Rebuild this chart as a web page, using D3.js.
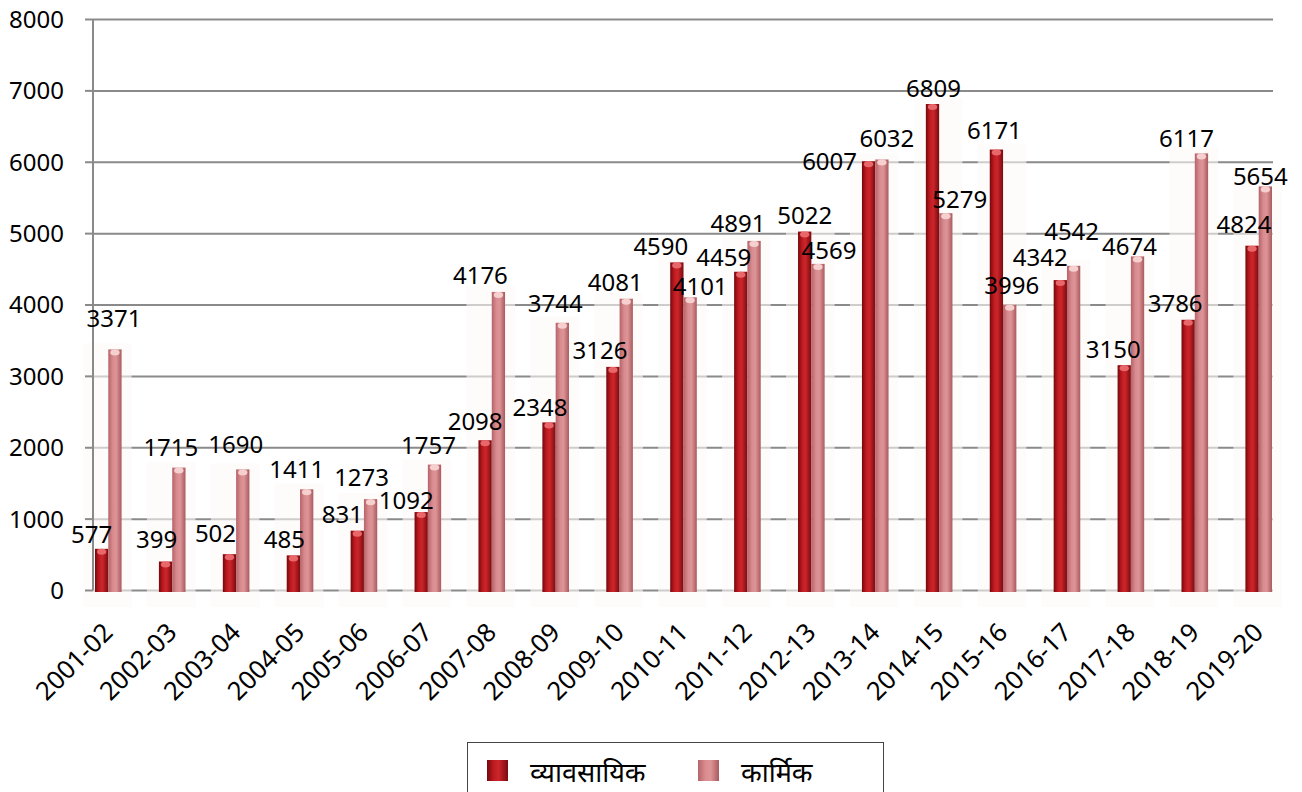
<!DOCTYPE html>
<html>
<head>
<meta charset="utf-8">
<script src="https://cdn.jsdelivr.net/npm/d3@7"></script>
<style>
	body { margin: 0; background: #fff; }
	text { font-family: "Noto Sans", "Open Sans", sans-serif; fill: #000; }
	.legend text { font-family: "Noto Sans Devanagari", "Lohit Devanagari", "Noto Sans", sans-serif; }
</style>
</head>
<body>
<div id="vis"></div>
<script>
// Year categories and the two series
var categories = ['2001-02', '2002-03', '2003-04', '2004-05', '2005-06', '2006-07', '2007-08',
	'2008-09', '2009-10', '2010-11', '2011-12', '2012-13', '2013-14', '2014-15', '2015-16',
	'2016-17', '2017-18', '2018-19', '2019-20'];
var vyavasayik = [577, 399, 502, 485, 831, 1092, 2098, 2348, 3126, 4590, 4459, 5022, 6007, 6809, 6171, 4342, 3150, 3786, 4824];
var karmik = [3371, 1715, 1690, 1411, 1273, 1757, 4176, 3744, 4081, 4101, 4891, 4569, 6032, 5279, 3996, 4542, 4674, 6117, 5654];
var seriesNames = ['व्यावसायिक', 'कार्मिक'];
var yTicks = [0, 1000, 2000, 3000, 4000, 5000, 6000, 7000, 8000];

// label shifts (px) from the top of each bar, the way the old chart placed them
var nudgeDark = [[-10, -14], [-9, -22], [-14, -21], [-9, -16], [-15, -16], [-15, -11], [-10, -19],
	[-9, -15], [-13, -16], [-16, -16], [-17, -14], [0, -16], [-39, 0], [1, -15], [-2, -19],
	[-20, -22], [-11, -16], [-13, -16], [-8, -21]];
var nudgePink = [[-1, -31], [-8, -20], [-7, -25], [-10, -20], [-9, -22], [-6, -19], [-18, -16],
	[-7, -19], [-11, -16], [10, -11], [-16, -17], [11, -13], [5, -21], [14, -14], [2, -19],
	[-2, -34], [-8, -10], [-15, -15], [-5, -10]];

buildChart();

function buildChart() {
	var W = 1302, H = 792;
	var left = 93, right = 1273, top = 19, bottom = 590;

	var svg = d3.select('#vis').append('svg')
		.attr('width', W)
		.attr('height', H);

	addGradients(svg.append('defs'));

	var y = d3.scaleLinear().domain([0, 8000]).range([bottom, top]);
	var x = d3.scaleBand().domain(categories).range([95, 1272])
		.paddingInner(0.584).paddingOuter(0).align(0);
	var xs = d3.scaleBand().domain([0, 1]).range([0, x.bandwidth()]);

	var rows = categories.map(function(c, i) {
		return {cat: c, i: i, vals: [vyavasayik[i], karmik[i]]};
	});

	// gridlines
	var grid = svg.append('g')
		.attr('transform', 'translate(' + left + ',0)')
		.call(d3.axisLeft(y).tickValues(yTicks).tickSize(-(right - left)).tickFormat(''));
	grid.select('.domain').remove();
	grid.selectAll('line').attr('stroke', '#8a8a8a').attr('stroke-width', 2);

	// faint backdrop behind each pair, like the 3D wall shadow
	svg.append('g').selectAll('rect')
		.data(rows)
		.enter()
		.append('rect')
		.attr('x', function(d) { return x(d.cat) - 12; })
		.attr('width', x.bandwidth() + 22)
		.attr('y', function(d) { return y(d3.max(d.vals)) - 6; })
		.attr('height', function(d) { return bottom + 17 - y(d3.max(d.vals)) + 6; })
		.attr('fill', '#fdf9f9')
		.attr('opacity', 0.6);

	// y axis with ticks and labels
	var yAxis = svg.append('g')
		.attr('transform', 'translate(' + left + ',0)')
		.call(d3.axisLeft(y).tickValues(yTicks).tickSize(8).tickPadding(21).tickFormat(d3.format('d')));
	yAxis.select('.domain').attr('stroke', '#8a8a8a').attr('stroke-width', 2)
		.attr('d', 'M0,' + top + 'V' + bottom);
	yAxis.selectAll('line').attr('stroke', '#8a8a8a').attr('stroke-width', 2);
	yAxis.selectAll('text').style('font-size', '24px').attr('dy', '0.35em');

	// bars
	var groups = svg.append('g').selectAll('g')
		.data(rows)
		.enter()
		.append('g')
		.attr('transform', function(d) { return 'translate(' + x(d.cat) + ',0)'; });

	groups.selectAll('rect.bar')
		.data(function(d) { return d.vals.map(function(v, k) { return {v: v, k: k}; }); })
		.enter()
		.append('rect')
		.attr('class', 'bar')
		.attr('x', function(d) { return xs(d.k); })
		.attr('width', xs.bandwidth())
		.attr('y', function(d) { return y(d.v); })
		.attr('height', function(d) { return bottom + 2 - y(d.v); })
		.attr('fill', function(d) { return d.k === 0 ? 'url(#gDark)' : 'url(#gPink)'; });

	// light caps on the bar tops
	groups.selectAll('ellipse')
		.data(function(d) { return d.vals.map(function(v, k) { return {v: v, k: k}; }); })
		.enter()
		.append('ellipse')
		.attr('cx', function(d) { return xs(d.k) + xs.bandwidth() / 2; })
		.attr('cy', function(d) { return y(d.v) + 3; })
		.attr('rx', xs.bandwidth() / 2 - 2)
		.attr('ry', 3)
		.attr('fill', function(d) { return d.k === 0 ? '#e8676b' : '#f6d0cf'; });

	// value labels
	var labels = svg.append('g');
	rows.forEach(function(d) {
		d.vals.forEach(function(v, k) {
			var nudge = k === 0 ? nudgeDark[d.i] : nudgePink[d.i];
			labels.append('text')
				.attr('x', x(d.cat) + xs(k) + xs.bandwidth() / 2 + nudge[0])
				.attr('y', y(v) + nudge[1])
				.attr('dy', '0.35em')
				.attr('text-anchor', 'middle')
				.style('font-size', '24px')
				.text(v);
		});
	});

	// x axis labels
	var xAxis = svg.append('g')
		.attr('transform', 'translate(0,' + bottom + ')')
		.call(d3.axisBottom(x).tickSize(0).tickPadding(0));
	xAxis.select('.domain').remove();
	xAxis.selectAll('text')
		.style('font-size', '25.5px')
		.attr('text-anchor', 'end')
		.attr('y', 0)
		.attr('dy', 0)
		.attr('transform', 'translate(6,44) rotate(-45)');

	drawLegend(svg);
}

// Horizontal gradients to fake the rounded 3D look
function addGradients(defs) {
	var stops = {
		gDark: [['0%', '#73080b'], ['30%', '#bd1a20'], ['55%', '#cc262b'], ['100%', '#7a0b0e']],
		gPink: [['0%', '#b5646a'], ['35%', '#d98c8f'], ['60%', '#dd9496'], ['100%', '#a95a5e']]
	};
	Object.keys(stops).forEach(function(id) {
		var g = defs.append('linearGradient').attr('id', id)
			.attr('x1', '0%').attr('x2', '100%').attr('y1', '0%').attr('y2', '0%');
		stops[id].forEach(function(s) {
			g.append('stop').attr('offset', s[0]).attr('stop-color', s[1]);
		});
	});
}

function drawLegend(svg) {
	var lg = svg.append('g').attr('class', 'legend');
	lg.append('rect')
		.attr('x', 467.5).attr('y', 742.5)
		.attr('width', 416).attr('height', 70)
		.attr('fill', '#fff').attr('stroke', '#444').attr('stroke-width', 1);

	var itemX = [487, 698];
	seriesNames.forEach(function(name, k) {
		lg.append('rect')
			.attr('x', itemX[k]).attr('y', 760)
			.attr('width', 21).attr('height', 21)
			.attr('fill', k === 0 ? 'url(#gDark)' : 'url(#gPink)');
		lg.append('text')
			.attr('x', itemX[k] + 43).attr('y', 782)
			.style('font-size', '27px')
			.text(name);
	});
}
</script>
</body>
</html>
